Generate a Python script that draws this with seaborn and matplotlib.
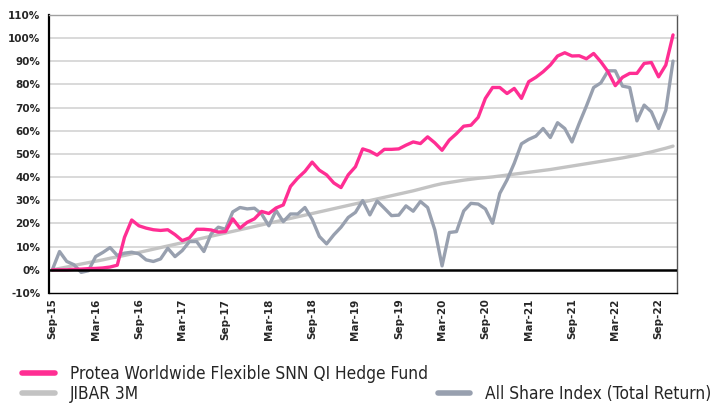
import matplotlib
matplotlib.use("Agg")
import matplotlib.pyplot as plt
import seaborn as sns
import numpy as np
import pandas as pd
from matplotlib.lines import Line2D

sns.set_style("white")
plt.rcParams['font.family'] = ['DejaVu Sans']

# Monthly dates Sep-15 .. Nov-22 (87 points)
months = pd.date_range("2015-09-01", "2022-11-01", freq="MS")
month_labels = [d.strftime("%b-%y") for d in months]

protea = [0.0, 0.0, 0.0, 0.2, 0.3, 0.5, 0.6, 0.8, 1.2, 2.0,
          14.0, 21.5, 19.0, 18.0, 17.3, 17.0, 17.3, 15.2, 12.6, 13.8,
          17.5, 17.5, 17.2, 16.3, 16.5, 22.0, 18.0, 20.5, 22.0, 25.2,
          24.3, 26.7, 28.0, 36.0, 39.6, 42.5, 46.5, 43.0, 41.0, 37.5,
          35.5, 41.0, 44.5, 52.2, 51.2, 49.5, 52.0, 52.0, 52.2, 53.8,
          55.2, 54.5, 57.4, 54.8, 51.6, 56.0, 58.8, 62.0, 62.4, 65.8,
          74.0, 78.7, 78.7, 76.1, 78.3, 74.0, 81.2, 83.1, 85.5, 88.4,
          92.3, 93.7, 92.3, 92.4, 91.1, 93.4, 89.8, 85.5, 79.5, 83.1,
          84.8, 84.8, 89.1, 89.5, 83.3, 88.4, 101.4]

jibar = [0.0, 0.6, 1.2, 1.9, 2.5, 3.1, 3.7, 4.3, 5.0, 5.6,
         6.2, 6.9, 7.5, 8.2, 8.9, 9.6, 10.3, 11.0, 11.7, 12.4,
         13.1, 13.8, 14.5, 15.2, 15.9, 16.6, 17.3, 18.0, 18.7, 19.4,
         20.1, 20.8, 21.5, 22.2, 22.9, 23.6, 24.3, 25.0, 25.7, 26.4,
         27.1, 27.8, 28.5, 29.2, 29.9, 30.6, 31.3, 32.0, 32.7, 33.4,
         34.1, 34.9, 35.7, 36.5, 37.2, 37.7, 38.2, 38.7, 39.1, 39.5,
         39.8, 40.1, 40.5, 40.9, 41.3, 41.7, 42.1, 42.5, 42.9, 43.3,
         43.8, 44.3, 44.8, 45.3, 45.8, 46.3, 46.8, 47.3, 47.8, 48.3,
         48.9, 49.5, 50.2, 50.9, 51.7, 52.5, 53.4]

alsi = [0.0, 7.9, 3.6, 2.2, -1.1, -0.4, 5.7, 7.5, 9.6, 6.2,
        7.2, 7.6, 6.9, 4.3, 3.6, 4.7, 9.3, 5.7, 8.3, 12.2,
        12.2, 7.9, 15.5, 18.4, 17.5, 25.0, 26.9, 26.3, 26.6, 24.1,
        19.0, 25.6, 20.8, 24.1, 24.1, 26.9, 21.8, 14.4, 11.2, 15.1,
        18.4, 22.6, 24.8, 29.9, 23.7, 29.7, 26.6, 23.4, 23.6, 27.6,
        25.3, 29.5, 26.9, 17.2, 1.7, 16.1, 16.5, 25.4, 28.7, 28.4,
        26.3, 20.1, 33.0, 38.8, 46.0, 54.4, 56.3, 57.7, 61.0, 57.1,
        63.5, 61.0, 55.2, 63.2, 70.7, 78.7, 80.7, 85.9, 85.9, 79.3,
        78.7, 64.3, 71.1, 68.2, 61.0, 68.9, 90.1]

series_names = ["Protea Worldwide Flexible SNN QI Hedge Fund", "JIBAR 3M",
                "All Share Index (Total Return)"]
colors = {"Protea": "#FF2E93", "JIBAR": "#C3C3C3", "ALSI": "#98A0AF"}

yticks = list(range(-10, 111, 10))

idx = np.arange(len(months))

fig = plt.figure(figsize=(7.13, 4.03), dpi=100)
ax = fig.add_axes([0.0683, 0.273, 0.8807, 0.6898])

for v in yticks:
    if v not in (0, -10, 110):
        ax.axhline(v, color="#CFCFCF", lw=1.1, zorder=0)

sns.lineplot(x=idx, y=jibar, color=colors["JIBAR"], lw=2.4, ax=ax, zorder=3)
sns.lineplot(x=idx, y=alsi, color=colors["ALSI"], lw=2.4, ax=ax, zorder=4)
sns.lineplot(x=idx, y=protea, color=colors["Protea"], lw=2.4, ax=ax, zorder=5)

ax.axhline(0, color="black", lw=1.8, zorder=6)

ax.set_xlim(-0.5, len(months) - 0.5)
ax.set_ylim(-10, 110)
ax.set_yticks(yticks)
ax.set_yticklabels([f"{v}%" for v in yticks], fontsize=7.5, fontweight="bold")
tick_pos = idx[::6]
ax.set_xticks(tick_pos)
ax.set_xticklabels([month_labels[i] for i in tick_pos], rotation=90,
                   fontsize=7.5, fontweight="bold")
ax.tick_params(axis="both", length=0, pad=4)
ax.tick_params(axis="y", pad=6)

ax.spines["top"].set_color("#A0A0A0")
ax.spines["top"].set_linewidth(1.0)
ax.spines["right"].set_color("#555555")
ax.spines["right"].set_linewidth(1.0)
ax.spines["left"].set_color("black")
ax.spines["left"].set_linewidth(1.6)
ax.spines["bottom"].set_color("black")
ax.spines["bottom"].set_linewidth(1.0)
ax.set_xlabel("")
ax.set_ylabel("")

handles = [Line2D([], [], color=colors["Protea"], lw=4),
           Line2D([], [], color=colors["JIBAR"], lw=4),
           Line2D([], [], color="none", lw=0),
           Line2D([], [], color=colors["ALSI"], lw=4)]
labels = [series_names[0], series_names[1], "", series_names[2]]
fig.legend(handles, labels, ncol=2, loc="upper left",
           bbox_to_anchor=(0.021, 0.1106), frameon=False,
           handlelength=1.9, handletextpad=0.87, columnspacing=0.58,
           labelspacing=0.1, borderaxespad=0,
           prop={"family": ["DejaVu Sans"], "stretch": "condensed", "size": 12.4})

fig.savefig("out.png", dpi=100)
